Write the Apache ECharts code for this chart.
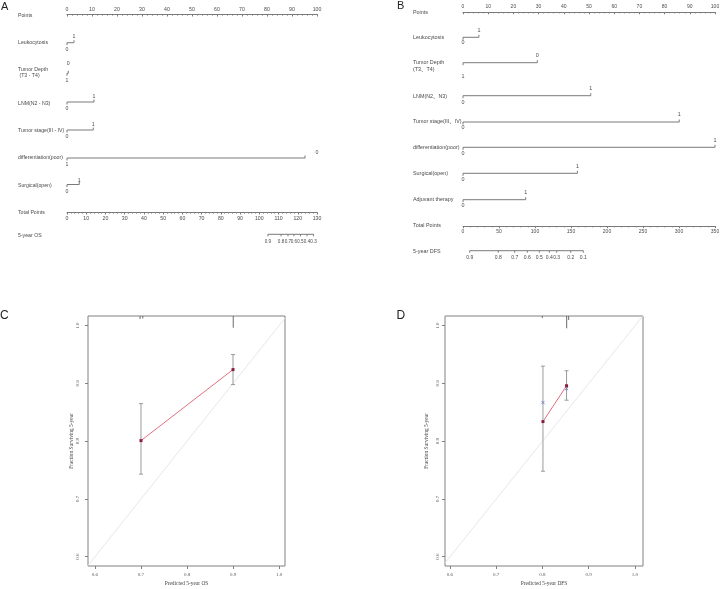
<!DOCTYPE html>
<html><head><meta charset="utf-8">
<script src="https://cdn.jsdelivr.net/npm/echarts@6/dist/echarts.min.js"></script>
<style>html,body{margin:0;padding:0;background:#fff}#c{width:724px;height:589px}</style>
</head><body><div id="c"></div>
<script>
// ================= DATA =================
// Panel A nomogram (5-year OS)
const aVarNames   = ['Leukocytosis', 'Tumor Depth\n (T3 - T4)', 'LNM(N2 - N3)', 'Tumor stage(III - IV)', 'differentiation(poor)', 'Surgical(open)'];
const aLowLabels  = ['0', '1', '0', '0', '1', '0'];
const aHighLabels = ['1', '0', '1', '1', '0', '1'];
const aHighPoints = [2.8, 0.5, 10.8, 10.5, 95.2, 4.9];
const osProbLabels  = ['0.9', '0.8', '0.7', '0.6', '0.5', '0.4', '0.3'];
const osTotalPoints = [104.5, 111.3, 114.9, 118.0, 121.4, 124.8, 128.2];

// Panel B nomogram (5-year DFS)
const bVarNames   = ['Leukocytosis', 'Tumor Depth\n(T3\u3001T4)', 'LNM(N2\u3001N3)', 'Tumor stage(III\u3001IV)', 'differentiation(poor)', 'Surgical(open)', 'Adjuvant therapy'];
const bLowLabels  = ['0', '1', '0', '0', '0', '0', '0'];
const bHighLabels = ['1', '0', '1', '1', '1', '1', '1'];
const bHighPoints = [6.3, 29.5, 50.7, 85.8, 100, 45.4, 24.9];
const dfsProbLabels  = ['0.9', '0.8', '0.7', '0.6', '0.5', '0.4', '0.3', '0.2', '0.1'];
const dfsTotalPoints = [9.3, 49.0, 71.8, 89.3, 106.0, 119.9, 130.1, 149.6, 167.1];

// Calibration axes
const calTicks = [0.6, 0.7, 0.8, 0.9, 1.0];

// Panel C calibration (OS)
const cPredicted = [0.7, 0.9];
const cObserved  = [0.801, 0.924];
const cLower     = [0.743, 0.898];
const cUpper     = [0.865, 0.950];
const cRugX      = [0.698, 0.704, 0.9005];
const cRugEnd    = [1.0115, 1.0125, 0.9965];

// Panel D calibration (DFS)
const dPredicted = [0.801, 0.852];
const dObserved  = [0.834, 0.896];
const dLower     = [0.748, 0.871];
const dUpper     = [0.930, 0.922];
const dCorrected = [0.867, 0.891];
const dRugX      = [0.7996, 0.8523, 0.8566];
const dRugEnd    = [1.0133, 0.9955, 1.0099];

// ================= LAYOUT / STYLE =================
const SANS  = "'Liberation Sans', 'Noto Sans CJK SC', sans-serif";
const SERIF = "'Liberation Serif', serif";
const TXT = '#4a4a4a';
const LINE = '#7a7a7a';
const FRAME = '#808080';

const A = {left: 67, width: 250, top: 14.3, bottom: 212.3, nameX: 18, font: 5.2, lh: 6};
const B = {left: 463, width: 252, top: 12, bottom: 226, nameX: 413, font: 5.4, lh: 7};

const aLineY  = [42.7, 73.3, 102, 130, 158, 184.5];
const aNameY  = [42.7, 73, 103.3, 130.7, 158, 185.3];
const aLowDy  = [6.6, 7.7, 7, 6.7, 6.3, 7.2];
const aHighDy = [-6, -9.3, -5.3, -5, -5, -4.2];
const aHighDx = [0, 0, 0, 0, 12, 0];

const bLineY  = [37.3, 62.7, 95.7, 122, 147.3, 173.3, 199.7];
const bNameY  = [37.3, 66.2, 96.7, 122, 147.3, 173.3, 199.7];
const bLowDy  = [5.4, 14, 7, 5.7, 6.7, 6.7, 6.3];
const bHighDy = [-6.6, -6.7, -6.7, -7, -6.3, -6.6, -7];
const bHighDx = [0, 0, 0, 0, 0, 0, 0];

const C = {left: 88, top: 316, width: 197, height: 250, xmin: 0.5848, xmax: 1.013, ymin: 0.5839, ymax: 1.0168};
const D = {left: 445, top: 316, width: 198, height: 250, xmin: 0.5892, xmax: 1.0173, ymin: 0.5839, ymax: 1.0168};

function nomoAxis(gridIndex, pos, max, interval, split, font, margin) {
  return {
    type: 'value', gridIndex: gridIndex, position: pos, min: 0, max: max, interval: interval,
    axisLine: {show: true, onZero: false, lineStyle: {color: LINE, width: 1}},
    axisTick: {show: true, inside: pos === 'top', length: 2.2, lineStyle: {color: LINE, width: 1}},
    minorTick: {show: true, splitNumber: split, length: 1.4, lineStyle: {color: LINE, width: 0.8}},
    axisLabel: {show: true, interval: 0, margin: margin, fontSize: font, color: TXT, fontFamily: SANS, hideOverlap: false},
    splitLine: {show: false}, minorSplitLine: {show: false}
  };
}

function calAxis(gridIndex, isX, min, max, name, margin, nameGap) {
  return {
    type: 'value', gridIndex: gridIndex, min: min, max: max,
    axisLine: {show: false},
    axisTick: {show: true, length: 3, customValues: calTicks, lineStyle: {color: FRAME, width: 1}},
    axisLabel: {show: true, customValues: calTicks, formatter: function (v) { return (+v).toFixed(1); },
      margin: margin, fontSize: 5, fontFamily: SERIF, color: '#555', rotate: isX ? 0 : 90},
    splitLine: {show: false},
    name: name, nameLocation: 'middle', nameGap: nameGap,
    nameTextStyle: {fontSize: 5.4, fontFamily: SERIF, color: '#444'}
  };
}

function nomoRows(xi, yi, cfg, names, lows, highs, pts, lineY, nameY, lowDy, highDy, highDx) {
  return {
    type: 'custom', xAxisIndex: xi, yAxisIndex: yi, silent: true, clip: false,
    data: pts.map(function (p, i) { return [p, i]; }),
    renderItem: function (params, api) {
      const i = api.value(1);
      const yv = lineY[i] - cfg.top;
      const a = api.coord([0, yv]);
      const b = api.coord([api.value(0), yv]);
      const st = {stroke: LINE, lineWidth: 1};
      const fs = {fill: TXT, fontSize: cfg.font, fontFamily: SANS, align: 'center', verticalAlign: 'middle'};
      return {type: 'group', children: [
        {type: 'line', shape: {x1: a[0], y1: a[1], x2: b[0], y2: b[1]}, style: st},
        {type: 'line', shape: {x1: a[0], y1: a[1], x2: a[0], y2: a[1] + 2.5}, style: st},
        {type: 'line', shape: {x1: b[0], y1: b[1], x2: b[0], y2: b[1] - 2.5}, style: st},
        {type: 'text', x: a[0], y: a[1] + lowDy[i], style: Object.assign({}, fs, {text: lows[i]})},
        {type: 'text', x: b[0] + highDx[i], y: b[1] + highDy[i], style: Object.assign({}, fs, {text: highs[i]})},
        {type: 'text', x: cfg.nameX, y: nameY[i], style: Object.assign({}, fs, {text: names[i], align: 'left', lineHeight: cfg.lh})}
      ]};
    }
  };
}

function probAxis(xi, yi, cfg, labels, pts, axisY, title, titleY, font) {
  return {
    type: 'custom', xAxisIndex: xi, yAxisIndex: yi, silent: true, clip: false,
    data: pts.map(function (p, i) { return [p, i]; }),
    renderItem: function (params, api) {
      const i = api.value(1);
      const yv = axisY - cfg.top;
      const p = api.coord([api.value(0), yv]);
      const st = {stroke: LINE, lineWidth: 1};
      const fs = {fill: TXT, fontSize: font, fontFamily: SANS, align: 'center', verticalAlign: 'middle'};
      const ch = [
        {type: 'line', shape: {x1: p[0], y1: p[1], x2: p[0], y2: p[1] + 2}, style: st},
        {type: 'text', x: p[0], y: p[1] + 7.3, style: Object.assign({}, fs, {text: labels[i]})}
      ];
      if (i === 0) {
        const q = api.coord([pts[pts.length - 1], yv]);
        ch.push({type: 'line', shape: {x1: p[0], y1: p[1], x2: q[0], y2: q[1]}, style: st});
        ch.push({type: 'text', x: cfg.nameX, y: titleY, style: Object.assign({}, fs, {text: title, align: 'left', fontSize: cfg.font})});
      }
      return {type: 'group', children: ch};
    }
  };
}

function errBars(xi, yi, xs, lo, hi) {
  return {
    type: 'custom', xAxisIndex: xi, yAxisIndex: yi, silent: true, z: 3,
    data: xs.map(function (x, i) { return [x, lo[i], hi[i]]; }),
    renderItem: function (params, api) {
      const a = api.coord([api.value(0), api.value(1)]);
      const b = api.coord([api.value(0), api.value(2)]);
      const st = {stroke: '#9a9a9a', lineWidth: 1};
      return {type: 'group', children: [
        {type: 'line', shape: {x1: a[0], y1: a[1], x2: b[0], y2: b[1]}, style: st},
        {type: 'line', shape: {x1: a[0] - 2, y1: a[1], x2: a[0] + 2, y2: a[1]}, style: st},
        {type: 'line', shape: {x1: b[0] - 2, y1: b[1], x2: b[0] + 2, y2: b[1]}, style: st}
      ]};
    }
  };
}

function rug(xi, yi, xs, ends, top) {
  return {
    type: 'custom', xAxisIndex: xi, yAxisIndex: yi, silent: true, clip: false, z: 3,
    data: xs.map(function (x, i) { return [x, ends[i]]; }),
    renderItem: function (params, api) {
      const a = api.coord([api.value(0), top]);
      const b = api.coord([api.value(0), api.value(1)]);
      return {type: 'line', shape: {x1: a[0], y1: a[1], x2: b[0], y2: b[1]}, style: {stroke: '#6a6a6a', lineWidth: 1}};
    }
  };
}

function crosses(xi, yi, xs, ys) {
  return {
    type: 'custom', xAxisIndex: xi, yAxisIndex: yi, silent: true, z: 4,
    data: xs.map(function (x, i) { return [x, ys[i]]; }),
    renderItem: function (params, api) {
      const p = api.coord([api.value(0), api.value(1)]);
      const st = {stroke: '#7080c0', lineWidth: 0.9};
      const r = 1.6;
      return {type: 'group', children: [
        {type: 'line', shape: {x1: p[0] - r, y1: p[1] - r, x2: p[0] + r, y2: p[1] + r}, style: st},
        {type: 'line', shape: {x1: p[0] - r, y1: p[1] + r, x2: p[0] + r, y2: p[1] - r}, style: st}
      ]};
    }
  };
}

function calLine(xi, yi, xs, ys) {
  return {
    type: 'line', xAxisIndex: xi, yAxisIndex: yi, silent: true, z: 5,
    data: xs.map(function (x, i) { return [x, ys[i]]; }),
    lineStyle: {color: '#e0707e', width: 1},
    symbol: 'rect', symbolSize: 3, showSymbol: true,
    itemStyle: {color: '#8c1c3c'}
  };
}

function diag(xi, yi, cfg) {
  return {
    type: 'line', xAxisIndex: xi, yAxisIndex: yi, silent: true, z: 1, symbol: 'none',
    data: [[cfg.xmin, cfg.xmin], [cfg.xmax, cfg.xmax]],
    lineStyle: {color: '#e6e6ea', width: 1}
  };
}

function label(text, x, y, size) {
  return {type: 'text', x: x, y: y, style: {text: text, fontSize: size, fontFamily: SANS, fill: '#222', align: 'left', verticalAlign: 'middle'}};
}
function smallText(text, x, y, size) {
  return {type: 'text', x: x, y: y, style: {text: text, fontSize: size, fontFamily: SANS, fill: TXT, align: 'left', verticalAlign: 'middle'}};
}

const chart = echarts.init(document.getElementById('c'), null, {renderer: 'canvas', width: 724, height: 589});

const option = {
  animation: false,
  backgroundColor: '#fff',
  grid: [
    {left: A.left, top: A.top, width: A.width, height: A.bottom - A.top, show: false, outerBoundsMode: 'none'},
    {left: B.left, top: B.top, width: B.width, height: B.bottom - B.top, show: false, outerBoundsMode: 'none'},
    {left: C.left, top: C.top, width: C.width, height: C.height, show: true, borderColor: FRAME, borderWidth: 1, backgroundColor: 'transparent', outerBoundsMode: 'none'},
    {left: D.left, top: D.top, width: D.width, height: D.height, show: true, borderColor: FRAME, borderWidth: 1, backgroundColor: 'transparent', outerBoundsMode: 'none'}
  ],
  xAxis: [
    nomoAxis(0, 'top', 100, 10, 5, 5.2, 2.2),
    nomoAxis(0, 'bottom', 130, 10, 5, 5.2, 4),
    nomoAxis(1, 'top', 100, 10, 5, 5, 3),
    nomoAxis(1, 'bottom', 350, 50, 5, 5, 3.5),
    calAxis(2, true, C.xmin, C.xmax, 'Predicted 5-year OS', 6, 15),
    calAxis(3, true, D.xmin, D.xmax, 'Predicted 5-year DFS', 6, 15)
  ],
  yAxis: [
    {type: 'value', gridIndex: 0, min: 0, max: A.bottom - A.top, inverse: true, show: false},
    {type: 'value', gridIndex: 1, min: 0, max: B.bottom - B.top, inverse: true, show: false},
    calAxis(2, false, C.ymin, C.ymax, 'Fraction Surviving 5-year', 8, 13),
    calAxis(3, false, D.ymin, D.ymax, 'Fraction Surviving 5-year', 5, 15.5)
  ],
  series: [
    nomoRows(0, 0, A, aVarNames, aLowLabels, aHighLabels, aHighPoints, aLineY, aNameY, aLowDy, aHighDy, aHighDx),
    probAxis(1, 0, A, osProbLabels, osTotalPoints, 234.3, '5-year OS', 235.3, 4.6),
    nomoRows(2, 1, B, bVarNames, bLowLabels, bHighLabels, bHighPoints, bLineY, bNameY, bLowDy, bHighDy, bHighDx),
    probAxis(3, 1, B, dfsProbLabels, dfsTotalPoints, 250.7, '5-year DFS', 251.3, 5),

    diag(4, 2, C),
    errBars(4, 2, cPredicted, cLower, cUpper),
    rug(4, 2, cRugX, cRugEnd, C.ymax),
    calLine(4, 2, cPredicted, cObserved),

    diag(5, 3, D),
    errBars(5, 3, dPredicted, dLower, dUpper),
    rug(5, 3, dRugX, dRugEnd, D.ymax),
    crosses(5, 3, dPredicted, dCorrected),
    calLine(5, 3, dPredicted, dObserved)
  ],
  graphic: [
    label('A', 1, 6.5, 11),
    label('B', 397, 6, 11),
    label('C', 0, 316, 12),
    label('D', 396.5, 316, 12),
    smallText('Points', A.nameX, 15.3, A.font),
    smallText('Total Points', A.nameX, 212.3, A.font),
    smallText('Points', B.nameX, 12.7, B.font),
    smallText('Total Points', B.nameX, 226, B.font)
  ]
};

chart.setOption(option);
</script>
</body></html>
